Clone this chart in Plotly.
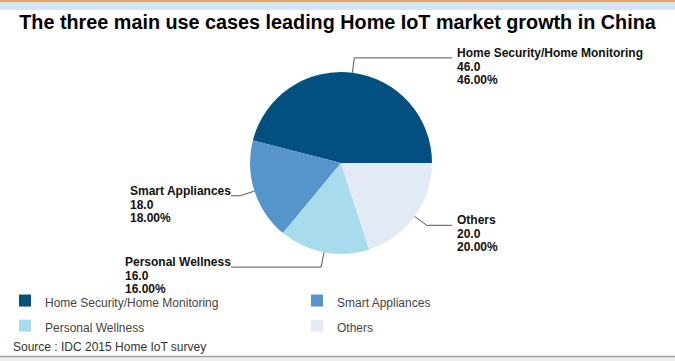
import math
import plotly.graph_objects as go

# ---- data ----
labels = ["Home Security/Home Monitoring", "Smart Appliances", "Personal Wellness", "Others"]
values = [46.0, 18.0, 16.0, 20.0]
colors = ["#01507f", "#5595cc", "#a8dcec", "#e2eaf5"]
title_text = "The three main use cases leading Home IoT market growth in China"
source_text = "Source : IDC 2015 Home IoT survey"

# ---- layout constants (pixels) ----
W, H = 675, 361
CX, CY, R = 341, 163, 91
FONT = "Liberation Sans, Arial, sans-serif"


def px(x):
    return x / W


def py(y):
    return 1 - y / H


total = sum(values)
legend_labels = [f'<span style="font-size:12px">{lab}</span>' for lab in labels]
# first slice runs counterclockwise from 3 o'clock
rot = 90 - 360.0 * values[0] / total

fig = go.Figure()
fig.add_trace(go.Pie(
    labels=legend_labels, values=values, sort=False,
    direction="counterclockwise", rotation=rot,
    marker=dict(colors=colors, line=dict(width=0)),
    textinfo="none", hoverinfo="value+percent",
    domain=dict(x=[px(CX - R), px(CX + R)], y=[py(CY + R), py(CY - R)]),
))

shapes = []
annotations = []

# top decorative bars and bottom rule
shapes.append(dict(type="rect", xref="paper", yref="paper", x0=0, x1=1, y0=py(2), y1=1,
                   fillcolor="#e6a65a", line=dict(width=0), layer="below"))
shapes.append(dict(type="rect", xref="paper", yref="paper", x0=0, x1=1, y0=py(10), y1=py(2),
                   fillcolor="#d5e5f2", line=dict(width=0), layer="below"))
shapes.append(dict(type="rect", xref="paper", yref="paper", x0=0, x1=1, y0=0, y1=py(356),
                   fillcolor="#eeeeee", line=dict(width=0), layer="below"))
shapes.append(dict(type="line", xref="paper", yref="paper", x0=0, x1=1, y0=py(356.5), y1=py(356.5),
                   line=dict(color="#a0a0a0", width=1.5)))

# data labels with connectors
start = 0.0
for lab, v in zip(labels, values):
    span = 360.0 * v / total
    mid = math.radians(start + span / 2)
    start += span
    c, s = math.cos(mid), math.sin(mid)
    ex, ey = CX + R * c, CY - R * s
    bx, by = CX + (R + 15) * c, CY - (R + 15) * s
    right = c > 0
    endx = 452 if right else 231
    shapes.append(dict(type="path", xref="paper", yref="paper",
                       path=f"M {px(ex)} {py(ey)} L {px(bx)} {py(by)} L {px(endx)} {py(by)}",
                       line=dict(color="#555555", width=1)))
    pct = 100.0 * v / total
    txt = "<br>".join(f'<span style="font-size:12px"><b>{t}</b></span>'
                      for t in (lab, f"{v:.1f}", f"{pct:.2f}%"))
    annotations.append(dict(
        text=txt, xref="paper", yref="paper",
        x=px(455 if right else 233), y=py(by + 8.5),
        xanchor="left" if right else "right", yanchor="middle",
        align="left", showarrow=False,
        font=dict(family=FONT, size=10.4, color="#111111"),
    ))

annotations.append(dict(text=source_text, xref="paper", yref="paper", x=px(11), y=py(347),
                        xanchor="left", yanchor="middle", showarrow=False,
                        font=dict(family=FONT, size=12, color="#333333")))

fig.update_layout(
    width=W, height=H,
    margin=dict(l=0, r=0, t=0, b=0),
    paper_bgcolor="white", plot_bgcolor="white",
    font=dict(family=FONT),
    title=dict(text=f"<b>{title_text}</b>", x=0.5, xanchor="center",
               y=py(22), yanchor="middle", font=dict(family=FONT, size=19.8, color="#000000")),
    showlegend=True,
    legend=dict(orientation="h", x=px(5), y=py(283), xanchor="left", yanchor="top",
                entrywidth=247, entrywidthmode="pixels",
                font=dict(family=FONT, size=17, color="#444444"),
                bgcolor="rgba(0,0,0,0)"),
    shapes=shapes, annotations=annotations,
)

fig.write_html("out.html", config={"displayModeBar": False},
               post_script="document.body.style.margin='0';")
